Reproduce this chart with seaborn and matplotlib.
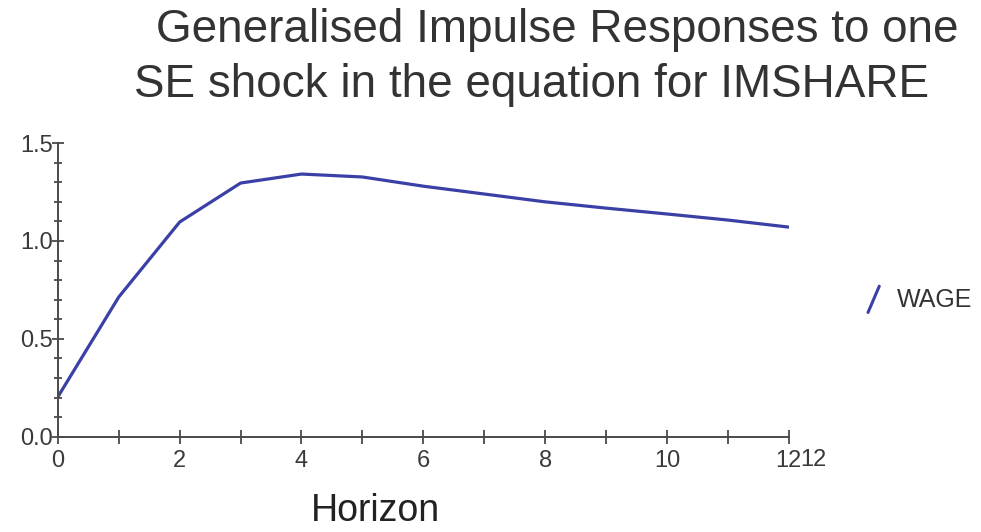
import matplotlib
matplotlib.use("Agg")
import matplotlib.pyplot as plt
import seaborn as sns
import pandas as pd
from matplotlib.lines import Line2D
from matplotlib.legend_handler import HandlerLine2D
from matplotlib.ticker import MultipleLocator, FormatStrFormatter

sns.set_style("white")
plt.rcParams["font.family"] = ["Liberation Sans", "DejaVu Sans"]

horizon = [0, 1, 2, 3, 4, 5, 6, 7, 8, 9, 10, 11, 12]
wage = [0.204, 0.714, 1.097, 1.296, 1.342, 1.327, 1.280, 1.240, 1.200,
        1.168, 1.138, 1.107, 1.071]
series_name = "WAGE"
title_lines = ["Generalised Impulse Responses to one",
               "SE shock in the equation for IMSHARE"]
xlabel_text = "Horizon"

df = pd.DataFrame({"Horizon": horizon, series_name: wage})

line_color = "#3b40a6"
axis_color = "#4a4a4a"
text_color = "#3a3a3a"

fig = plt.figure(figsize=(9.81, 5.32), dpi=100)
ax = fig.add_axes([0.059, 0.179, 0.745, 0.552])

sns.lineplot(data=df, x="Horizon", y=series_name, ax=ax, color=line_color,
             linewidth=2.3, label=series_name)

ax.set_xlim(0, 12)
ax.set_ylim(0, 1.5)
ax.xaxis.set_major_locator(MultipleLocator(2))
ax.xaxis.set_minor_locator(MultipleLocator(1))
ax.yaxis.set_major_locator(MultipleLocator(0.5))
ax.yaxis.set_minor_locator(MultipleLocator(0.1))
ax.yaxis.set_major_formatter(FormatStrFormatter("%.1f"))

for side in ["top", "right"]:
    ax.spines[side].set_visible(False)
for side in ["left", "bottom"]:
    ax.spines[side].set_color(axis_color)
    ax.spines[side].set_linewidth(1.4)

ax.tick_params(axis="both", which="both", direction="inout", color=axis_color,
               width=1.3, labelcolor=text_color, bottom=True, left=True)
ax.tick_params(axis="x", which="major", length=10, labelsize=17, pad=4.5)
ax.tick_params(axis="x", which="minor", length=10)
ax.tick_params(axis="y", which="major", length=9, labelsize=17, pad=-1)
ax.tick_params(axis="y", which="minor", length=6)

ax.set_xlabel("")
ax.set_ylabel("")
fig.text(375 / 981, 1 - 511 / 532, xlabel_text, ha="center", va="center",
         fontsize=27, color="#222222")

# second end-of-axis label right after the last tick label
ax.annotate("12", xy=(12, 0), xycoords="data", xytext=(8.5, -8.5),
            textcoords="offset points", ha="left", va="top",
            fontsize=17, color=text_color, annotation_clip=False)

fig.text(557 / 981, 1 - 42 / 532, title_lines[0], ha="center", va="baseline",
         fontsize=33, color="#333333")
fig.text(532 / 981, 1 - 97 / 532, title_lines[1], ha="center", va="baseline",
         fontsize=33, color="#333333")


class SlashHandler(HandlerLine2D):
    def create_artists(self, legend, orig_handle, xdescent, ydescent,
                       width, height, fontsize, trans):
        line = Line2D([width * 0.25, width * 0.75], [-height * 0.3, height * 1.2],
                      color=orig_handle.get_color(), linewidth=2.2)
        line.set_transform(trans)
        return [line]


handles, labels = ax.get_legend_handles_labels()
leg = ax.legend(handles, labels, loc="center left", bbox_to_anchor=(1.07, 0.465),
                frameon=False, fontsize=18, handlelength=0.9, handletextpad=0.5,
                handler_map={Line2D: SlashHandler()})
for t in leg.get_texts():
    t.set_color("#333333")

fig.savefig("out.png", dpi=100)
